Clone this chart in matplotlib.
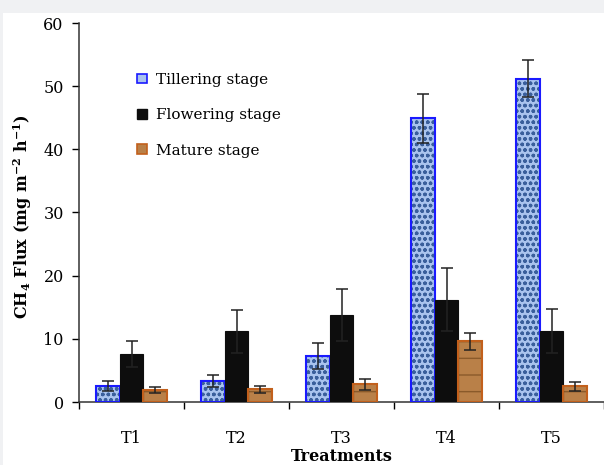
import numpy as np
import matplotlib
matplotlib.use('Agg')
import matplotlib.pyplot as plt
from matplotlib.patches import Rectangle, Patch

# data
treatments = ['T1', 'T2', 'T3', 'T4', 'T5']
tillering = [2.5, 3.3, 7.3, 44.9, 51.2]
tillering_err = [0.8, 1.0, 2.1, 3.9, 2.9]
flowering = [7.6, 11.2, 13.8, 16.2, 11.2]
flowering_err = [2.1, 3.4, 4.1, 5.0, 3.5]
mature = [1.9, 2.0, 2.8, 9.6, 2.5]
mature_err = [0.5, 0.5, 0.9, 1.4, 0.7]

plt.rcParams['font.family'] = 'DejaVu Serif'
plt.rcParams['mathtext.fontset'] = 'dejavuserif'
plt.rcParams['mathtext.default'] = 'bf'
plt.rcParams['hatch.linewidth'] = 1.0

fig = plt.figure(figsize=(6.04, 4.65), dpi=100, facecolor='#f0f1f3')
# white page area (screenshot has a grey strip on top and left)
fig.patches.append(Rectangle((3 / 604, 0), 1, 1 - 13 / 465, transform=fig.transFigure,
                             facecolor='white', edgecolor='none', zorder=-10))

ax = fig.add_axes([79 / 604, 63 / 465, 525 / 604, 379 / 465])
ax.set_facecolor('none')

x = np.arange(len(treatments))
w = 0.228
ekw = dict(ecolor='#222222', elinewidth=1.1, capsize=4, capthick=1.1)

# tillering: speckled blue with blue outline
ax.bar(x - w, tillering, w, color='#a9c3ee', hatch='ooo', edgecolor='#3a5f9c', linewidth=0, zorder=2)
ax.bar(x - w, tillering, w, fill=False, edgecolor='#1a1aff', linewidth=1.5, zorder=3,
       yerr=tillering_err, error_kw=ekw)

# flowering: solid black
ax.bar(x, flowering, w, color='#0d0d0d', edgecolor='#0d0d0d', linewidth=0.8, zorder=3,
       yerr=flowering_err, error_kw=ekw)

# mature: brown wood texture
ax.bar(x + w, mature, w, color='#b98048', hatch='-', edgecolor='#8a5a2a', linewidth=0, zorder=2)
ax.bar(x + w, mature, w, fill=False, edgecolor='#c2601c', linewidth=1.5, zorder=3,
       yerr=mature_err, error_kw=ekw)

ax.set_xlim(-0.5, 4.5)
ax.set_ylim(0, 60)
ax.set_yticks(range(0, 61, 10))
ax.set_xticks(x)
ax.set_xticklabels(treatments)
ax.set_xticks(np.arange(-0.5, 5.0, 1.0), minor=True)
ax.tick_params(axis='x', which='major', length=0, pad=20, labelsize=11.5)
ax.tick_params(axis='x', which='minor', length=5, width=1, direction='out')
ax.tick_params(axis='y', length=5, width=1, direction='out', labelsize=11.5, pad=6)

for s in ['top', 'right']:
    ax.spines[s].set_visible(False)
for s in ['left', 'bottom']:
    ax.spines[s].set_linewidth(1.1)
    ax.spines[s].set_color('#333333')

ax.set_xlabel('Treatments', fontsize=11.5, fontweight='bold', labelpad=1)
ax.set_ylabel(r'CH$_4$ Flux (mg m$^{-2}$ h$^{-1}$)', fontsize=11.5, fontweight='bold')
ax.yaxis.set_label_coords(-0.085, 0.49)

handles = [Patch(facecolor='#a9c3ee', edgecolor='#1a1aff', linewidth=1.2),
           Patch(facecolor='#0d0d0d', edgecolor='#0d0d0d'),
           Patch(facecolor='#b98048', edgecolor='#c2601c', linewidth=1.2)]
ax.legend(handles, ['Tillering stage', 'Flowering stage', 'Mature stage'],
          loc='upper left', bbox_to_anchor=(0.085, 0.905), frameon=False,
          fontsize=11, labelspacing=1.4, handlelength=0.6, handleheight=0.6,
          handletextpad=0.6)

fig.savefig('out.png', dpi=100, facecolor=fig.get_facecolor())
